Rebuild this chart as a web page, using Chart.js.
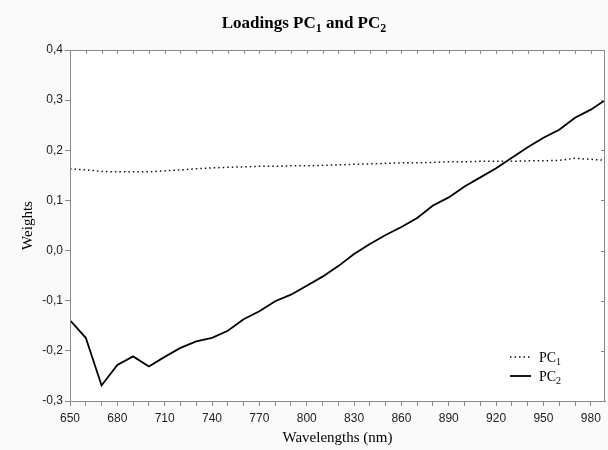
<!DOCTYPE html>
<html>
<head>
<meta charset="utf-8">
<script src="https://cdn.jsdelivr.net/npm/chart.js@4.4.1/dist/chart.umd.min.js"></script>
<style>
  html, body { margin: 0; padding: 0; background: #fafafa; }
  canvas { display: block; }
</style>
</head>
<body>
<canvas id="chart" width="608" height="450"></canvas>
<script>
// Wavelength grid (nm)
const wavelengths = [650, 660, 670, 680, 690, 700, 710, 720, 730, 740, 750, 760, 770, 780, 790,
  800, 810, 820, 830, 840, 850, 860, 870, 880, 890, 900, 910, 920, 930, 940, 950, 960, 970, 980, 989];

// Loadings of the first principal component
const pc1 = [0.163, 0.161, 0.158, 0.157, 0.157, 0.157, 0.159, 0.161, 0.163, 0.165, 0.166, 0.167,
  0.168, 0.168, 0.169, 0.169, 0.170, 0.171, 0.172, 0.173, 0.174, 0.175, 0.175, 0.176, 0.177,
  0.177, 0.178, 0.178, 0.178, 0.179, 0.179, 0.180, 0.184, 0.182, 0.180];

// Loadings of the second principal component
const pc2 = [-0.139, -0.174, -0.269, -0.228, -0.211, -0.231, -0.212, -0.194, -0.181, -0.174,
  -0.160, -0.137, -0.121, -0.101, -0.088, -0.070, -0.052, -0.031, -0.007, 0.013, 0.031, 0.047,
  0.065, 0.090, 0.106, 0.128, 0.146, 0.164, 0.185, 0.206, 0.225, 0.241, 0.265, 0.281, 0.300];

const seriesNames = ['PC1', 'PC2'];
const chartTitle = 'Loadings PC1 and PC2';
const xTitle = 'Wavelengths (nm)';
const yTitle = 'Weights';
const xLabelEvery = 30;     // label every third 10 nm tick
const xRange = [650, 989];
const yRange = [-0.3, 0.4];

const frameColor = '#8a8a8a';
const serif = '"Liberation Serif", "Times New Roman", serif';
const sans = '"Liberation Sans", Arial, sans-serif';

// Split "PC1" style text so the digit after PC is drawn as a subscript
function segments(text) {
  const out = [];
  const re = /PC(\d)/g;
  let last = 0, m;
  while ((m = re.exec(text)) !== null) {
    out.push({ t: text.slice(last, m.index) + 'PC', sub: false });
    out.push({ t: m[1], sub: true });
    last = re.lastIndex;
  }
  if (last < text.length) out.push({ t: text.slice(last), sub: false });
  return out;
}

function drawRich(ctx, text, x, y, size, weight, align) {
  const segs = segments(text);
  const main = weight + ' ' + size + 'px ' + serif;
  const small = weight + ' ' + Math.round(size * 0.72) + 'px ' + serif;
  let total = 0;
  segs.forEach(s => { ctx.font = s.sub ? small : main; s.w = ctx.measureText(s.t).width; total += s.w; });
  let cx = align === 'center' ? x - total / 2 : x;
  ctx.textBaseline = 'alphabetic';
  ctx.textAlign = 'left';
  segs.forEach(s => {
    ctx.font = s.sub ? small : main;
    ctx.fillText(s.t, cx, s.sub ? y + size * 0.22 : y);
    cx += s.w;
  });
}

const framePlugin = {
  id: 'frame',
  beforeDraw(chart) {
    const { ctx, chartArea: a } = chart;
    ctx.save();
    ctx.fillStyle = '#ffffff';
    ctx.fillRect(a.left, a.top, a.right - a.left, a.bottom - a.top);
    ctx.restore();
  },
  afterDraw(chart) {
    const { ctx, chartArea: a, scales } = chart;
    ctx.save();
    ctx.strokeStyle = frameColor;
    ctx.lineWidth = 1;
    ctx.strokeRect(a.left + 0.5, a.top + 0.5, a.right - a.left - 1, a.bottom - a.top);
    // inward ticks on the top and right edges
    ctx.beginPath();
    scales.x.ticks.forEach(t => {
      const px = Math.round(scales.x.getPixelForValue(t.value)) + 0.5;
      ctx.moveTo(px, a.top); ctx.lineTo(px, a.top + 4);
    });
    scales.y.ticks.forEach(t => {
      const py = Math.round(scales.y.getPixelForValue(t.value)) + 0.5;
      ctx.moveTo(a.right, py); ctx.lineTo(a.right - 4, py);
    });
    ctx.stroke();

    // title
    ctx.fillStyle = '#000000';
    drawRich(ctx, chartTitle, chart.width / 2, 28, 17, 'bold', 'center');

    // legend inside the plot, lower right
    const lx = 510, ly = 357, gap = 19;
    chart.data.datasets.forEach((ds, i) => {
      const y = ly + i * gap;
      ctx.beginPath();
      ctx.strokeStyle = ds.borderColor;
      ctx.lineWidth = ds.borderWidth;
      ctx.setLineDash(ds.borderDash || []);
      ctx.moveTo(lx, y); ctx.lineTo(lx + 21, y);
      ctx.stroke();
      ctx.setLineDash([]);
      ctx.fillStyle = '#000000';
      drawRich(ctx, ds.label, lx + 29, y + 5, 14, 'normal', 'left');
    });
    ctx.restore();
  }
};

new Chart(document.getElementById('chart'), {
  type: 'line',
  data: {
    datasets: [
      {
        label: seriesNames[0],
        data: wavelengths.map((w, i) => ({ x: w, y: pc1[i] })),
        borderColor: '#111111',
        borderWidth: 1.5,
        borderDash: [1.5, 3],
        pointRadius: 0,
        tension: 0
      },
      {
        label: seriesNames[1],
        data: wavelengths.map((w, i) => ({ x: w, y: pc2[i] })),
        borderColor: '#000000',
        borderWidth: 1.8,
        pointRadius: 0,
        tension: 0
      }
    ]
  },
  options: {
    responsive: false,
    animation: false,
    devicePixelRatio: 1,
    layout: { padding: { top: 50, right: 3, left: 0, bottom: 0 } },
    plugins: {
      legend: { display: false },
      title: { display: false },
      tooltip: { enabled: false }
    },
    scales: {
      x: {
        type: 'linear',
        min: xRange[0],
        max: xRange[1],
        afterFit(s) { s.height = 49; },
        grid: { display: true, drawOnChartArea: false, drawTicks: true, tickLength: 5, color: frameColor },
        border: { display: true, color: frameColor },
        ticks: {
          stepSize: 10,
          includeBounds: false,
          autoSkip: false,
          maxRotation: 0,
          padding: 5,
          color: '#222222',
          font: { family: sans, size: 12 },
          callback: v => ((v - xRange[0]) % xLabelEvery === 0 ? String(v) : '')
        },
        title: {
          display: true,
          text: xTitle,
          color: '#000000',
          font: { family: serif, size: 15 },
          padding: { top: 0, bottom: 3 }
        }
      },
      y: {
        min: yRange[0],
        max: yRange[1],
        afterFit(s) { s.width = 70; },
        grid: { display: true, drawOnChartArea: false, drawTicks: true, tickLength: 5, color: frameColor },
        border: { display: true, color: frameColor },
        ticks: {
          stepSize: 0.1,
          padding: 2,
          color: '#222222',
          font: { family: sans, size: 12 },
          callback: v => (Math.abs(v) < 1e-9 ? 0 : v).toFixed(1).replace('.', ',')
        },
        title: {
          display: true,
          text: yTitle,
          color: '#000000',
          font: { family: serif, size: 15 },
          padding: { top: 19, bottom: 0 }
        }
      }
    }
  },
  plugins: [framePlugin]
});
</script>
</body>
</html>
